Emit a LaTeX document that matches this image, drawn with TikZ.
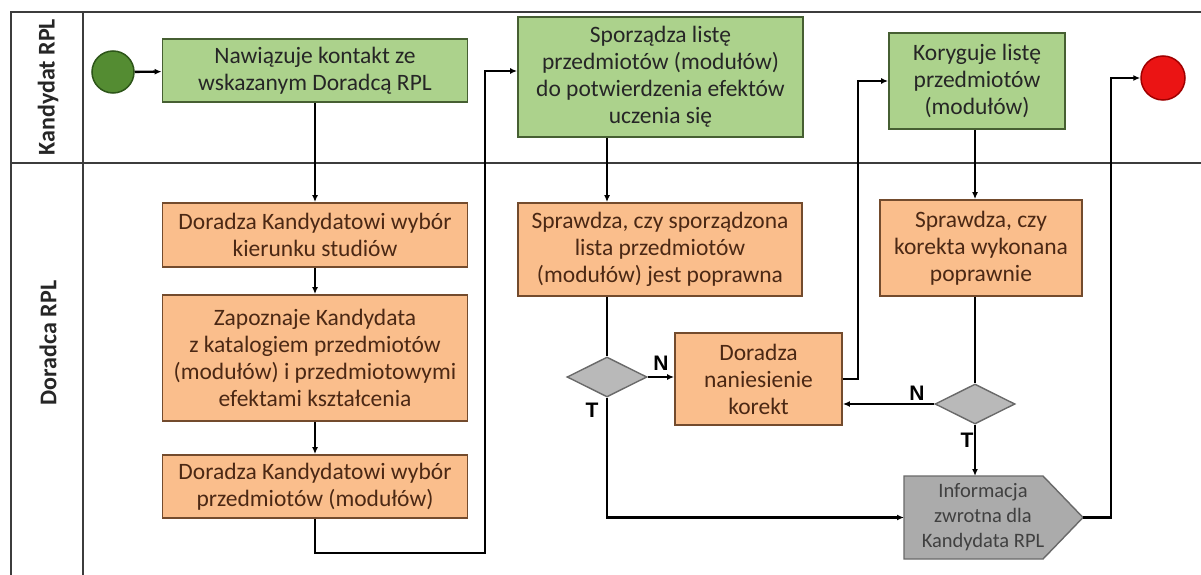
\documentclass[tikz,border=0pt]{standalone}
\usepackage{fontspec}
\setmainfont{Carlito}
\newfontfamily\arialfont{Liberation Sans}
\usetikzlibrary{shapes,arrows.meta}

\definecolor{candfill}{RGB}{172,210,140}
\definecolor{candline}{RGB}{70,95,50}
\definecolor{advfill}{RGB}{250,190,140}
\definecolor{advline}{RGB}{115,75,45}
\definecolor{advtext}{RGB}{75,40,20}
\definecolor{gatefill}{RGB}{185,185,185}
\definecolor{gateline}{RGB}{105,105,105}
\definecolor{startfill}{RGB}{84,140,50}
\definecolor{startline}{RGB}{45,85,25}
\definecolor{stopfill}{RGB}{235,20,20}
\definecolor{stopline}{RGB}{160,0,0}
\definecolor{laneline}{RGB}{60,60,60}

\begin{document}
\begin{tikzpicture}[x=1pt,y=-1pt,>={Latex[length=7pt,width=6pt]}]
\tikzstyle{task}=[draw,line width=1.8pt,align=center,inner sep=2pt,font=\fontsize{23.5}{27}\selectfont]
\tikzstyle{cand}=[task,fill=candfill,draw=candline,text=black!85]
\tikzstyle{adv}=[task,fill=advfill,draw=advline,text=advtext]
\tikzstyle{gate}=[diamond,draw=gateline,fill=gatefill,line width=1.4pt,minimum width=80pt,minimum height=40pt,inner sep=0pt]
\tikzstyle{flow}=[line width=2.4pt,->]
\tikzstyle{plain}=[line width=2.4pt]
\tikzstyle{yn}=[font=\arialfont\bfseries\fontsize{21}{21}\selectfont,inner sep=0pt]
\tikzstyle{lanetext}=[rotate=90,font=\bfseries\fontsize{24}{24}\selectfont,text=black!85]
\tikzstyle{lane}=[draw=laneline,line width=1.4pt]

\useasboundingbox (0,0) rectangle (1201,575);

% pool and lanes
\draw[lane] (11,580) -- (11,12) -- (1205,12);
\draw[lane] (83,12) -- (83,580);
\draw[lane] (11,163) -- (1205,163);
\node[lanetext] (lanecand) at (48,87) {Kandydat RPL};
\node[lanetext] (laneadv) at (48,343) {Doradca RPL};

% events
\node[circle,fill=startfill,draw=startline,line width=1.5pt,minimum size=42pt] (start) at (113,72) {};
\node[circle,fill=stopfill,draw=stopline,line width=1.5pt,minimum size=44pt] (stop) at (1163,78) {};

% tasks
\node[cand,minimum width=305pt,minimum height=63pt] (contact) at (315,70.5) {Nawiązuje kontakt ze\\wskazanym Doradcą RPL};
\node[adv,minimum width=305pt,minimum height=64pt] (field) at (315,235) {Doradza Kandydatowi wybór\\kierunku studiów};
\node[adv,minimum width=305pt,minimum height=126pt] (catalog) at (315,358) {Zapoznaje Kandydata\\z katalogiem przedmiotów\\(modułów) i przedmiotowymi\\efektami kształcenia};
\node[adv,minimum width=305pt,minimum height=63pt] (subjects) at (315,486.5) {Doradza Kandydatowi wybór\\przedmiotów (modułów)};
\node[cand,minimum width=285pt,minimum height=120pt] (list) at (660.5,77) {Sporządza listę\\przedmiotów (modułów)\\do potwierdzenia efektów\\uczenia się};
\node[adv,minimum width=284pt,minimum height=93pt] (check) at (660,249.5) {Sprawdza, czy sporządzona\\lista przedmiotów\\(modułów) jest poprawna};
\node[gate] (ok1) at (607,377) {};
\node[adv,minimum width=167pt,minimum height=92pt] (fix) at (758.5,379) {Doradza\\naniesienie\\korekt};
\node[cand,minimum width=176pt,minimum height=96pt] (correct) at (977,81) {Koryguje listę\\przedmiotów\\(modułów)};
\node[adv,minimum width=202pt,minimum height=96pt] (recheck) at (981,248) {Sprawdza, czy\\korekta wykonana\\poprawnie};
\node[gate] (ok2) at (975,404) {};

% feedback (signal shape)
\filldraw[fill=gatefill!120,draw=gateline,line width=1.4pt] (904,476) -- (1043,476) -- (1083,517.5) -- (1043,559) -- (904,559) -- cycle;
\node[align=center,font=\fontsize{20.5}{25}\selectfont,text=black!75] (feedback) at (983,517.5) {Informacja\\zwrotna dla\\Kandydata RPL};
\coordinate (fbin) at (904,517.5);
\coordinate (fbtop) at (975,476);
\coordinate (fbtip) at (1083,517.5);

% corners of the connectors
\coordinate (up1) at (485,553);
\coordinate (up2) at (858,379);
\coordinate (up3) at (1111,517.5);

% connectors
\draw[flow] (start) -- (contact);
\draw[flow] (contact) -- (field);
\draw[flow] (field) -- (catalog);
\draw[flow] (catalog) -- (subjects);
\draw[flow] (subjects.south) |- (up1) |- ([yshift=6pt]list.west);
\draw[flow] (list.south -| ok1) -- (check.north -| ok1);
\draw[plain] (check.south -| ok1) -- (ok1.north);
\draw[flow] (ok1.east) -- (fix.west |- ok1);
\draw[flow] (ok1.south) |- (fbin);
\draw[flow] (fix.east) -- (up2) |- (correct.west);
\draw[flow] (correct.south -| ok2) -- (recheck.north -| ok2);
\draw[plain] (recheck.south -| ok2) -- (ok2.north);
\draw[flow] (ok2.west) -- (fix.east |- ok2);
\draw[flow] (ok2.south) -- (fbtop);
\draw[flow] (fbtip) -- (up3) |- (stop.west);

% gate labels
\node[yn] (n1) at (661,363) {N};
\node[yn] (t1) at (592,410) {T};
\node[yn] (n2) at (917,393) {N};
\node[yn] (t2) at (967,440) {T};
\end{tikzpicture}
\end{document}
